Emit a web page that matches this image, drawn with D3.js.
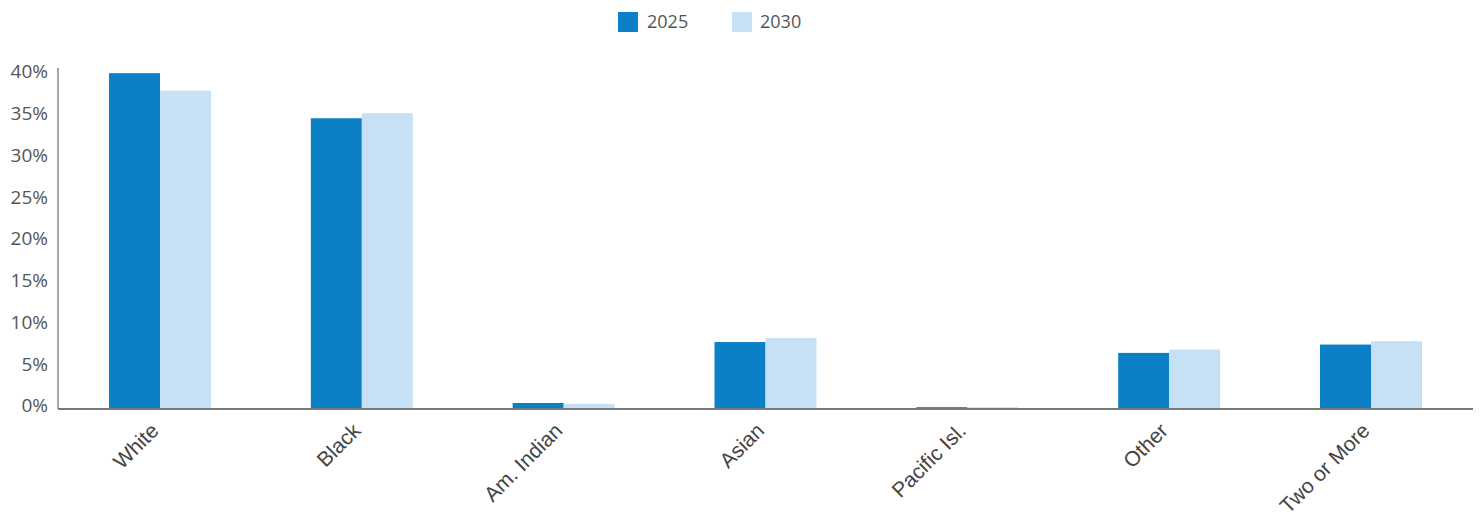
<!DOCTYPE html>
<html>
<head>
<meta charset="utf-8">
<script src="https://cdn.jsdelivr.net/npm/d3@7"></script>
<style>
  html, body { margin: 0; padding: 0; background: #ffffff; }
  svg { display: block; }
</style>
</head>
<body>
<svg id="chart" width="1484" height="522"></svg>
<script>
// Share of population by race, projected years
const categories = ["White", "Black", "Am. Indian", "Asian", "Pacific Isl.", "Other", "Two or More"];
const seriesNames = ["2025", "2030"];
const values2025 = [40.1, 34.7, 0.6, 7.9, 0.1, 6.6, 7.6];
const values2030 = [38.0, 35.3, 0.5, 8.4, 0.1, 7.0, 8.0];
const yTicks = [0, 5, 10, 15, 20, 25, 30, 35, 40];
const colors = ["#0b80c6", "#c6e1f5"];

const svg = d3.select("#chart");
const left = 58;
const plotRight = 1473;
const baseY = 408;

const x = d3.scaleBand()
  .domain(categories)
  .range([left, plotRight])
  .paddingInner(0.4946)
  .paddingOuter(0.2527);

const xSub = d3.scaleBand()
  .domain(seriesNames)
  .range([0, x.bandwidth()])
  .padding(0);

const y = d3.scaleLinear()
  .domain([0, 40])
  .range([baseY, 74]);

const rows = categories.map((c, i) => ({ cat: c, vals: [values2025[i], values2030[i]] }));

// bars
const groups = svg.append("g").selectAll("g")
  .data(rows)
  .join("g")
  .attr("transform", d => `translate(${x(d.cat)},0)`);

groups.selectAll("rect")
  .data(d => d.vals.map((v, j) => ({ key: seriesNames[j], v, j })))
  .join("rect")
  .attr("x", d => xSub(d.key))
  .attr("width", xSub.bandwidth())
  .attr("y", d => y(d.v))
  .attr("height", d => baseY - y(d.v))
  .attr("fill", d => colors[d.j]);

// y axis labels
const yAxis = d3.axisLeft(y)
  .tickValues(yTicks)
  .tickFormat(d => d + "%")
  .tickSize(0)
  .tickPadding(10);

const yg = svg.append("g")
  .attr("transform", `translate(${left},0)`)
  .call(yAxis);
yg.select(".domain").remove();
yg.selectAll("text")
  .attr("fill", "#555")
  .attr("dy", "0.2em")
  .style("font-family", "'Open Sans', sans-serif")
  .style("font-size", "19px");

// axis lines
svg.append("line")
  .attr("x1", left).attr("x2", left)
  .attr("y1", 68).attr("y2", baseY + 1)
  .attr("stroke", "#8a8a8a").attr("stroke-width", 1.5);
svg.append("line")
  .attr("x1", left).attr("x2", plotRight)
  .attr("y1", baseY + 1).attr("y2", baseY + 1)
  .attr("stroke", "#7a7a7a").attr("stroke-width", 2);

// category labels
const xAxis = d3.axisBottom(x).tickSize(0).tickPadding(0);
const xg = svg.append("g")
  .attr("transform", `translate(0,${baseY})`)
  .call(xAxis);
xg.select(".domain").remove();
xg.selectAll("text")
  .attr("fill", "#444")
  .style("font-family", "'Liberation Sans', Arial, sans-serif")
  .style("font-size", "21px")
  .attr("text-anchor", "end")
  .attr("dy", "0")
  .attr("transform", "translate(0,24) rotate(-45)");

// legend
const legend = svg.append("g").attr("transform", "translate(618,12)");
const legendX = [0, 114];
seriesNames.forEach((name, i) => {
  const g = legend.append("g").attr("transform", `translate(${legendX[i]},0)`);
  g.append("rect").attr("width", 20).attr("height", 20).attr("fill", colors[i]);
  g.append("text")
    .attr("x", i === 0 ? 29 : 28).attr("y", 16)
    .attr("fill", "#555")
    .style("font-family", "'Open Sans', sans-serif")
    .style("font-size", "18px")
    .text(name);
});
</script>
</body>
</html>
